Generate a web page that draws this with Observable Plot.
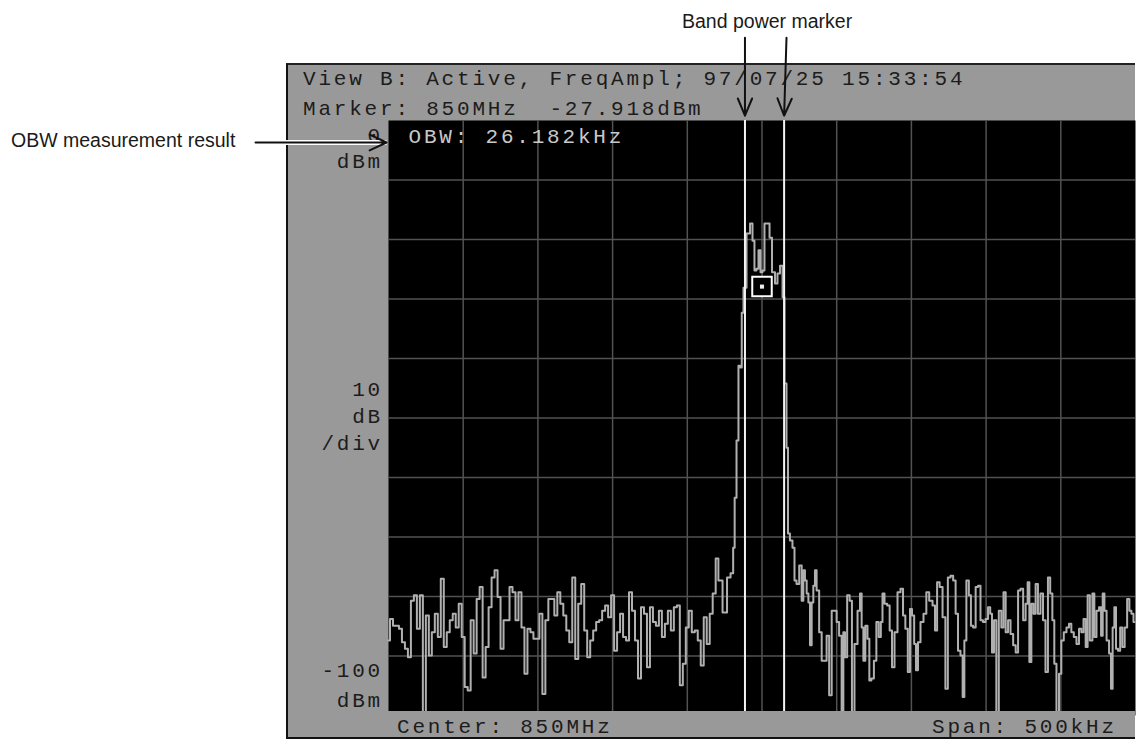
<!DOCTYPE html>
<html><head><meta charset="utf-8">
<script src="https://cdn.jsdelivr.net/npm/d3@7"></script>
<script src="https://cdn.jsdelivr.net/npm/@observablehq/plot@0.6"></script>
<style>
html,body{margin:0;padding:0;background:#fff;}
#stage{position:relative;width:1140px;height:740px;overflow:hidden;}
#frame{position:absolute;left:286px;top:63px;width:849px;height:676px;box-sizing:border-box;background:#999;border-left:2px solid #111;border-top:2px solid #222;border-bottom:2px solid #111;}
#bottombar{position:absolute;left:288px;top:711px;width:847px;height:26px;background:#999;}
.mono{position:absolute;font-family:"Liberation Mono","DejaVu Sans Mono",monospace;font-size:21px;letter-spacing:2.8px;white-space:pre;line-height:20px;color:#1c1c1c;}
.ann{position:absolute;font-family:"Liberation Sans",Arial,sans-serif;font-size:19.5px;white-space:pre;line-height:20px;color:#1a1a1a;}
#plot{position:absolute;left:0;top:0;}
</style></head>
<body><div id="stage"><div id="frame"></div><div id="plot"></div><div id="bottombar"></div></div>
<script>
// ---- data ----
const headerLine1 = "View B: Active, FreqAmpl; 97/07/25 15:33:54";
const headerLine2 = "Marker: 850MHz  -27.918dBm";
const obwLabel = "OBW: 26.182kHz";
const centerLabel = "Center: 850MHz";
const spanLabel = "Span: 500kHz";
const refLabels = ["0", "dBm"];
const scaleLabels = ["10", "dB", "/div"];
const bottomLabels = ["-100", "dBm"];
const annotationBand = "Band power marker";
const annotationOBW = "OBW measurement result";

const spanKHz = [-250, 250];          // 500 kHz span around 850 MHz
const levelRange = [-100, 0];         // dBm, 10 dB/div
const gridKHz = [-200, -150, -100, -50, 0, 50, 100, 150, 200];
const gridDBm = [-10, -20, -30, -40, -50, -60, -70, -80, -90];
const bandMarkersKHz = [-11.4, 14.8];
const markerKHz = 0;
const markerDBm = -27.918;

const traceKHz = [
-250,-248,-246,-244,-242,-240,-238,-236,-234,-232,-230,-228,-226,-224,-222,-220,-218,-216,-214,-212,
-210,-208,-206,-204,-202,-200,-198,-196,-194,-192,-190,-188,-186,-184,-182,-180,-178,-176,-174,-172,
-170,-168,-166,-164,-162,-160,-158,-156,-154,-152,-150,-148,-146,-144,-142,-140,-138,-136,-134,-132,
-130,-128,-126,-124,-122,-120,-118,-116,-114,-112,-110,-108,-106,-104,-102,-100,-98,-96,-94,-92,
-90,-88,-86,-84,-82,-80,-78,-76,-74,-72,-70,-68,-66,-64,-62,-60,-58,-56,-54,-52,
-50,-48,-46,-44,-42,-40,-38,-36,-34,-32,
-30,-28.4,-24.4,-22.4,-19.7,-18.9,-17.7,-16.4,-15.1,-14.0,-13.1,-11.7,-9.0,-7.0,-5.7,-4.4,-3.0,-1.7,-0.3,1.0,
2.3,4.4,5.7,7.7,9.7,11.0,13.1,14.4,15.7,17.1,17.7,19.7,21.1,22.4,23.8,26.0,27.1,28.2,29.3,30.5,
31.6,32.7,33.8,34.9,36.0,37.1,39.4,40.5,42.7,43.8,46.1,47.2,49.4,50.5,52.7,53.9,55.0,56.1,57.9,59.4,
61.0,62.8,65.1,66.1,67.3,68.4,69.9,71.3,72.4,74.0,75.8,77.3,78.9,80.2,81.1,82.9,84.7,86.2,87.8,89.6,
91.8,93.6,95.2,96.7,98.5,99.6,101.2,102.5,103.6,105.2,107.0,109.2,110.8,113.0,115.3,116.3,118.1,119.7,122.0,123.5,
125.3,127.1,128.8,130.4,132.0,133.7,134.9,136.0,137.6,139.3,140.4,142.2,143.8,145.4,147.1,148.7,150.5,152.1,153.4,154.5,
156.1,157.6,159.4,161.0,162.3,163.9,165.5,167.2,169.0,170.6,172.2,173.9,175.7,177.2,178.4,179.5,181.1,182.4,183.9,185.5,
187.3,188.9,190.6,192.2,193.6,195.1,196.2,198.0,199.6,201.1,202.9,204.7,206.3,207.8,209.6,211.4,213.0,214.5,215.9,217.4,
218.5,220.4,221.9,223.0,224.8,226.4,227.5,228.6,229.8,231.5,233.1,234.1,235.3,236.4,237.5,239.1,240.4,242.0,243.5,245.3,
246.5,248.0,249.3
];
const traceDBm = [
-87.4,-83.8,-84.9,-84.9,-85.4,-87.7,-88.8,-90.2,-80.7,-79.8,-85.4,-79.8,-100,-83.2,-89.9,-86.0,-82.9,-86.8,-77.0,-88.5,
-86.0,-84.0,-82.9,-85.2,-81.2,-86.8,-95.2,-95.8,-84.0,-89.6,-80.4,-78.4,-93.6,-88.5,-81.8,-76.8,-75.6,-80.1,-88.8,-84.0,
-84.0,-78.4,-79.3,-84.0,-79.3,-85.2,-93.0,-85.4,-86.0,-87.1,-87.1,-82.9,-96.4,-84.0,-80.4,-80.4,-83.2,-79.3,-81.2,-83.2,
-85.7,-87.7,-76.8,-90.5,-81.2,-77.9,-85.7,-90.2,-87.4,-85.7,-84.3,-84.0,-82.4,-81.5,-83.5,-79.8,-89.1,-86.0,-82.9,-86.8,
-87.4,-79.3,-82.4,-87.4,-93.8,-81.8,-82.9,-91.9,-81.8,-84.3,-84.9,-82.4,-86.8,-84.6,-82.4,-85.7,-81.8,-81.5,-94.9,-91.3,
-85.2,-82.4,-86.0,-85.7,-87.4,-91.6,-83.5,-88.0,-82.9,-79.5,
-73.6,-77.3,-82.7,-76.8,-76.1,-71.8,-63.4,-53.8,-41.2,-41.5,-32.3,-28.1,-19.0,-17.3,-20.2,-25.2,-24.9,-21.8,-25.5,-25.2,
-17.3,-17.3,-19.7,-25.5,-27.4,-25.7,-24.4,-29.7,-44.2,-55.0,-69.4,-70.6,-71.8,-77.3,-77.9,-74.8,-80.7,-75.6,-77.3,-79.5,
-81.0,-88.2,-81.0,-78.2,-75.6,-79.0,-86.0,-90.8,-90.8,-86.6,-96.6,-82.4,-82.4,-84.3,-86.6,-100,-86.0,-90.2,-79.8,-80.7,
-100,-88.0,-82.4,-79.5,-85.2,-90.8,-84.9,-87.1,-94.1,-93.8,-90.8,-84.3,-86.8,-84.3,-79.5,-81.2,-81.5,-85.7,-91.9,-86.0,
-79.3,-78.7,-83.2,-85.4,-92.7,-82.1,-83.2,-88.0,-92.4,-87.7,-84.3,-82.9,-79.3,-80.7,-81.5,-85.7,-77.6,-78.4,-83.5,-95.5,
-76.8,-76.5,-77.3,-82.9,-89.1,-89.9,-96.9,-87.4,-77.3,-79.8,-84.9,-85.2,-78.4,-78.2,-84.0,-84.3,-83.8,-81.8,-82.9,-89.4,
-84.0,-100,-82.4,-85.2,-79.3,-86.0,-84.0,-86.3,-88.2,-89.4,-79.0,-78.7,-84.0,-81.2,-77.6,-91.0,-81.2,-82.9,-77.9,-82.9,
-79.5,-84.0,-92.7,-76.8,-79.5,-84.0,-91.3,-100,-93.0,-87.4,-86.0,-85.2,-84.6,-86.0,-86.8,-88.0,-85.4,-86.0,-83.8,-88.5,
-79.8,-87.4,-79.5,-86.8,-82.4,-81.8,-86.6,-79.5,-82.4,-87.4,-89.6,-95.5,-85.2,-81.8,-88.8,-89.1,-85.2,-88.5,-85.2,-80.4,
-82.4,-82.9,-84.3
];

// annotation arrow ends (kHz, dBm)
const bandArrowTopKHz = [-11.4, 16.4];
const arrowTopDBm = 13.9;
const arrowTipDBm = 0.8;
const obwArrowKHz = [-339, -251.3];
const obwArrowDBm = -3.7;

// ---- build ----
const trace = traceKHz.map((f, i) => ({f, p: traceDBm[i]}));
const bandArrows = bandMarkersKHz.map((m, i) => ({x1: bandArrowTopKHz[i], y1: arrowTopDBm, x2: m, y2: arrowTipDBm}));
const obwArrow = [{x1: obwArrowKHz[0], y1: obwArrowDBm, x2: obwArrowKHz[1], y2: obwArrowDBm}];

const chart = Plot.plot({
  width: 1140, height: 740,
  marginLeft: 388, marginRight: 5, marginTop: 120, marginBottom: 25,
  style: {background: "transparent", overflow: "visible"},
  x: {domain: spanKHz, axis: null},
  y: {domain: levelRange, axis: null},
  marks: [
    Plot.frame({fill: "black", stroke: "none"}),
    Plot.ruleX(gridKHz, {stroke: "#525252", strokeWidth: 1.5}),
    Plot.ruleY(gridDBm, {stroke: "#525252", strokeWidth: 1.5}),
    Plot.line(trace, {x: "f", y: "p", curve: "step", stroke: "#b0b0b0", strokeWidth: 2}),
    Plot.ruleX(bandMarkersKHz, {stroke: "#f4f4f4", strokeWidth: 2}),
    Plot.dot([{x: markerKHz, y: markerDBm}], {x: "x", y: "y", symbol: "square", r: 11, stroke: "white", strokeWidth: 2, fill: "black"}),
    Plot.dot([{x: markerKHz, y: markerDBm}], {x: "x", y: "y", symbol: "square", r: 2.3, fill: "#eee", stroke: "none"}),
    Plot.text([obwLabel], {frameAnchor: "top-left", textAnchor: "start", lineAnchor: "middle", dx: 20, dy: 16,
      fill: "#c8c8c8", fontFamily: "Liberation Mono, DejaVu Sans Mono, monospace", fontSize: 21, text: d => d}),
    Plot.link(obwArrow, {x1: "x1", y1: "y1", x2: "x2", y2: "y2", stroke: "white", strokeWidth: 5, clip: false}),
    Plot.arrow(obwArrow, {x1: "x1", y1: "y1", x2: "x2", y2: "y2", stroke: "#111", strokeWidth: 2, headLength: 14, headAngle: 50}),
    Plot.arrow(bandArrows, {x1: "x1", y1: "y1", x2: "x2", y2: "y2", stroke: "#111", strokeWidth: 2, headLength: 14, headAngle: 45})
  ]
});
chart.querySelectorAll("text").forEach(t => t.style.letterSpacing = "2.8px");
document.getElementById("plot").appendChild(chart);

// ---- text around the plot ----
const stage = document.getElementById("stage");
function addText(cls, str, left, top, opts = {}) {
  const d = document.createElement("div");
  d.className = cls;
  d.textContent = str;
  d.style.left = left + "px";
  d.style.top = top + "px";
  if (opts.right !== undefined) { d.style.left = "auto"; d.style.right = opts.right + "px"; }
  if (opts.front) { d.style.zIndex = 5; }
  stage.insertBefore(d, opts.front ? null : document.getElementById("plot"));
  return d;
}
addText("mono", headerLine1, 303, 70);
addText("mono", headerLine2, 303, 100);
addText("mono", refLabels[0], 0, 127, {right: 1140 - 383});
addText("mono", refLabels[1], 0, 153, {right: 1140 - 383});
addText("mono", scaleLabels[0], 0, 381, {right: 1140 - 383});
addText("mono", scaleLabels[1], 0, 408, {right: 1140 - 383});
addText("mono", scaleLabels[2], 0, 435, {right: 1140 - 383});
addText("mono", bottomLabels[0], 0, 662, {right: 1140 - 383});
addText("mono", bottomLabels[1], 0, 692, {right: 1140 - 383});
addText("mono", centerLabel, 397, 718, {front: true});
addText("mono", spanLabel, 932, 718, {front: true});
addText("ann", annotationBand, 682, 11);
addText("ann", annotationOBW, 11, 130);
</script></body></html>
